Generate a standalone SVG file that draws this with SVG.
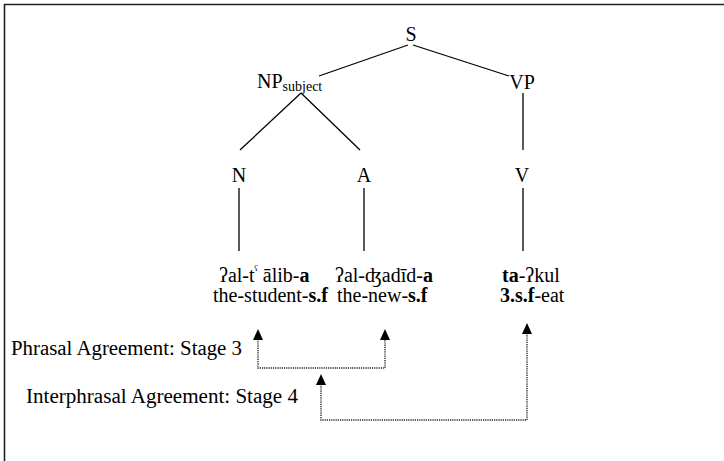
<svg xmlns="http://www.w3.org/2000/svg" width="724" height="461" viewBox="0 0 724 461">
<defs>
<style>
text{font-family:'Liberation Serif','Times New Roman','DejaVu Serif',serif;font-size:20px;fill:#000}
.b{font-weight:bold}
.sub{font-size:14px}
.edge{stroke:#000;stroke-width:1.3;fill:none}
.dot{stroke:#222;stroke-width:1.4;stroke-dasharray:1.2 1;fill:none}
</style>
</defs>
<rect width="724" height="461" fill="#fff"/>
<path d="M4.5,461 V4.5 H724" stroke="#222" stroke-width="1.6" fill="none"/>
<g id="connectors">
<line class="edge" x1="319" y1="76" x2="408" y2="45"/>
<line class="edge" x1="413" y1="45" x2="509" y2="76"/>
<line class="edge" x1="301" y1="93" x2="240" y2="150"/>
<line class="edge" x1="301" y1="93" x2="360" y2="150"/>
<line class="edge" x1="523" y1="93" x2="523" y2="150"/>
<line class="edge" x1="239" y1="188" x2="239" y2="251"/>
<line class="edge" x1="364" y1="188" x2="364" y2="251"/>
<line class="edge" x1="523" y1="188" x2="523" y2="251"/>
<path class="dot" d="M258,339 V368 H385 V339"/>
<path d="M253,340 L258,329 L263,340 Z M380,340 L385,329 L390,340 Z" fill="#000"/>
<path class="dot" d="M321,384 V420 H527 V333"/>
<path d="M316,385 L321,374 L326,385 Z M522,334 L527,323 L532,334 Z" fill="#000"/>
</g>
<g id="S"><text x="411" y="41" text-anchor="middle">S</text></g>
<g id="NP"><text x="257" y="88">NP<tspan class="sub" dy="3">subject</tspan></text></g>
<g id="VP"><text x="522" y="89" text-anchor="middle">VP</text></g>
<g id="N"><text x="239" y="182" text-anchor="middle">N</text></g>
<g id="A"><text x="364" y="182" text-anchor="middle">A</text></g>
<g id="V"><text x="522" y="182" text-anchor="middle">V</text></g>
<g id="word1">
<text x="219" y="282">ʔal-t<tspan font-size="13" dy="-8">ˤ</tspan><tspan dy="8"> ālib-</tspan><tspan class="b">a</tspan></text>
<text x="213" y="302">the-student-<tspan class="b">s.f</tspan></text>
</g>
<g id="word2">
<text x="335" y="282">ʔal-ʤadīd-<tspan class="b">a</tspan></text>
<text x="337" y="302">the-new-<tspan class="b">s.f</tspan></text>
</g>
<g id="word3">
<text x="502" y="282"><tspan class="b">ta</tspan>-ʔkul</text>
<text x="500" y="302"><tspan class="b">3.s.f</tspan>-eat</text>
</g>
<g id="label-stage3"><text x="11" y="355" textLength="231" lengthAdjust="spacingAndGlyphs">Phrasal Agreement: Stage 3</text></g>
<g id="label-stage4"><text x="26" y="403" textLength="272" lengthAdjust="spacingAndGlyphs">Interphrasal Agreement: Stage 4</text></g>
</svg>
